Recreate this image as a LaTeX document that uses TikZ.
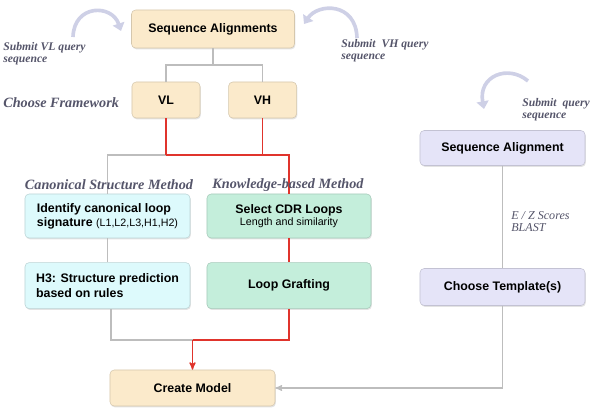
\documentclass[tikz,border=0pt]{standalone}
\usepackage{fontspec}
\setmainfont{Liberation Serif}
\setsansfont{Liberation Sans}
\usetikzlibrary{arrows,arrows.meta,positioning,shadows}

\definecolor{cream}{HTML}{FBEACB}
\definecolor{icecyan}{HTML}{DDFAFC}
\definecolor{mint}{HTML}{C4EEDB}
\definecolor{lavender}{HTML}{E5E4F8}
\definecolor{linegray}{HTML}{BDBDBD}
\definecolor{linered}{HTML}{E0342C}
\definecolor{labelgray}{HTML}{55556A}
\definecolor{swirl}{HTML}{CED0E6}

\tikzset{
  box/.style={draw=#1!85!black, fill=#1, rounded corners=3pt, line width=0.4pt,
    minimum width=4.125cm, inner sep=2pt,
    font=\sffamily\bfseries\fontsize{8.8}{10}\selectfont,
    drop shadow={opacity=0.22, shadow xshift=0.6pt, shadow yshift=-1pt}},
  note/.style={text=labelgray, font=\rmfamily\bfseries\itshape\fontsize{8.3}{8.3}\selectfont,
    align=left, inner sep=0pt, anchor=north west},
  headline/.style={text=labelgray, font=\rmfamily\bfseries\itshape\fontsize{10.1}{12}\selectfont,
    inner sep=0pt},
  gline/.style={draw=linegray, line width=0.8pt},
  rline/.style={draw=linered, line width=0.9pt},
  swirlarrow/.style={draw=swirl, line width=2.6pt, -{Triangle[width=8.5pt,length=5.5pt]}}
}

\begin{document}
\begin{tikzpicture}[x=0.025cm,y=-0.025cm,>=stealth',node distance=2cm]
\useasboundingbox (0,0) rectangle (600,415);

% left branch
\node [box=cream, minimum width=4.075cm, minimum height=0.95cm] (align) at (213,29) {Sequence Alignments};
\node [box=cream, minimum width=1.7cm, minimum height=0.9cm] (vl) at (166,100) {VL};
\node [box=cream, minimum width=1.7cm, minimum height=0.9cm] (vh) [right=0.7cm of vl] {VH};

\node [box=icecyan, minimum height=1.1cm, align=left] (canon) at (107.5,216)
  {Identify canonical loop\\signature {\mdseries\fontsize{7.6}{9}\selectfont(L1,L2,L3,H1,H2)}};
\node [box=mint, minimum width=4.1cm, minimum height=1.1cm, align=center] (select) at (289,216)
  {Select CDR Loops\\[-1pt]{\mdseries\fontsize{7.6}{8}\selectfont Length and similarity}};
\node [box=icecyan, minimum height=1.15cm, align=left] (hthree) [below=0.6cm of canon]
  {H3: Structure prediction\\based on rules};
\node [box=mint, minimum width=4.1cm, minimum height=1.15cm] (graft) [below=0.6cm of select] {Loop Grafting};

\node [box=cream, minimum height=0.9cm] (model) at (192.5,388) {Create Model};

% right branch
\node [box=lavender, minimum height=0.875cm] (align2) at (502.5,148) {Sequence Alignment};
\node [box=lavender, minimum height=0.925cm] (template) at (502.5,287) {Choose Template(s)};

% connectors
\coordinate (split) at (213,65);
\coordinate (fork) at (166,155);
\coordinate (join) at (192.5,340);
\path [gline] (align.south) -- (split) -| (vl.north);
\path [gline] (split) -| (vh.north);
\path [gline] (fork) -| (canon.north);
\path [gline] (canon.south) -- (hthree.north);
\path [gline] ([xshift=2.5pt]hthree.south) |- (join);
\path [rline] (vl.south) -- (fork);
\path [rline] (vh.south) |- (fork);
\path [rline] (fork) -| (select.north);
\path [rline] (select.south) -- (graft.north);
\path [rline] (graft.south) |- (join);
\path [rline, ->] (join) -- (model.north);
\path [gline] (align2.south) -- (template.north);
\path [gline, ->] (template.south) |- (model.east);

% labels
\node [headline] (canonlabel) at (109,185) {Canonical Structure Method};
\node [headline] (knowlabel) at (288,185) {Knowledge-based Method};
\node [headline, anchor=west] (framelabel) at (3,103) {Choose Framework};
\node [note] (vlnote) at (3,42) {Submit VL query\\sequence};
\node [note] (vhnote) at (341,39) {Submit~ VH query\\sequence};
\node [note] (qnote) at (522,98) {Submit~ query\\sequence};
\node [note, font=\rmfamily\itshape\fontsize{8.6}{8.6}\selectfont] (scores) at (511,211) {E / Z Scores\\BLAST};

% submit arrows
\coordinate (vlfrom) at (73,37);
\coordinate (vlto) at (121,31);
\coordinate (vhfrom) at (357,38);
\coordinate (vhto) at (304,24);
\coordinate (qfrom) at (528,81);
\coordinate (qto) at (484,109);
\draw [swirlarrow] (vlfrom) .. controls (74,4) and (112,4) .. (vlto);
\draw [swirlarrow] (vhfrom) .. controls (356,2) and (318,3) .. (vhto);
\draw [swirlarrow] (qfrom) .. controls (508,64) and (478,76) .. (qto);
\end{tikzpicture}
\end{document}
